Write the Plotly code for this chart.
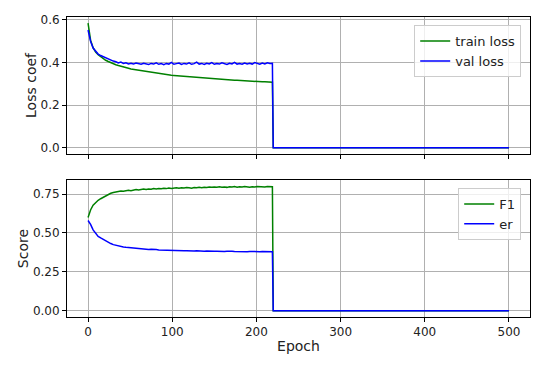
import plotly.graph_objects as go
from plotly.subplots import make_subplots

# epochs sampled every 3 up to 219, then the collapse at 220 and flat tail to 500
epochs = list(range(0, 220, 3)) + [220, 500]

train_loss = [
    0.585, 0.505, 0.470, 0.450, 0.437, 0.427, 0.418, 0.411, 0.405, 0.399,
    0.394, 0.390, 0.386, 0.382, 0.379, 0.376, 0.373, 0.370, 0.368, 0.366,
    0.363, 0.361, 0.359, 0.357, 0.355, 0.353, 0.351, 0.349, 0.348, 0.346,
    0.345, 0.343, 0.342, 0.340, 0.339, 0.338, 0.337, 0.336, 0.334, 0.333,
    0.332, 0.331, 0.330, 0.329, 0.328, 0.327, 0.326, 0.326, 0.325, 0.324,
    0.323, 0.322, 0.322, 0.321, 0.320, 0.319, 0.319, 0.318, 0.317, 0.317,
    0.316, 0.315, 0.315, 0.314, 0.313, 0.313, 0.312, 0.311, 0.311, 0.310,
    0.310, 0.309, 0.309, 0.308,
    0.0, 0.0,
]

val_loss = [
    0.553, 0.500, 0.468, 0.452, 0.440, 0.433, 0.428, 0.420, 0.416, 0.410,
    0.407, 0.404, 0.398, 0.402, 0.396, 0.399, 0.394, 0.397, 0.393, 0.398,
    0.395, 0.392, 0.397, 0.394, 0.391, 0.396, 0.393, 0.399, 0.392, 0.395,
    0.390, 0.396, 0.393, 0.401, 0.392, 0.395, 0.398, 0.391, 0.396, 0.393,
    0.399, 0.392, 0.395, 0.402, 0.393, 0.396, 0.391, 0.397, 0.394, 0.400,
    0.392, 0.396, 0.393, 0.399, 0.395, 0.391, 0.397, 0.394, 0.401, 0.393,
    0.396, 0.392, 0.398, 0.394, 0.397, 0.393, 0.400, 0.395, 0.392, 0.398,
    0.394, 0.399, 0.396, 0.397,
    0.0, 0.0,
]

f1 = [
    0.600, 0.648, 0.678, 0.695, 0.710, 0.720, 0.730, 0.740, 0.748, 0.755,
    0.760, 0.764, 0.767, 0.770, 0.768, 0.773, 0.775, 0.772, 0.777, 0.779,
    0.776, 0.780, 0.782, 0.779, 0.783, 0.781, 0.785, 0.783, 0.786, 0.784,
    0.787, 0.785, 0.789, 0.786, 0.788, 0.790, 0.787, 0.791, 0.789, 0.792,
    0.790, 0.788, 0.792, 0.790, 0.793, 0.791, 0.794, 0.792, 0.795, 0.793,
    0.796, 0.794, 0.797, 0.794, 0.796, 0.793, 0.797, 0.795, 0.798, 0.794,
    0.797, 0.795, 0.798, 0.796, 0.794, 0.797, 0.795, 0.798, 0.796, 0.797,
    0.795, 0.798, 0.796, 0.797,
    0.0, 0.0,
]

er = [
    0.580, 0.555, 0.520, 0.495, 0.478, 0.468, 0.458, 0.448, 0.440, 0.432,
    0.425, 0.420, 0.416, 0.413, 0.410, 0.408, 0.406, 0.404, 0.402, 0.401,
    0.399, 0.397, 0.398, 0.395, 0.394, 0.395, 0.392, 0.393, 0.391, 0.390,
    0.391, 0.389, 0.388, 0.390, 0.387, 0.388, 0.386, 0.387, 0.385, 0.386,
    0.384, 0.386, 0.384, 0.385, 0.383, 0.385, 0.383, 0.384, 0.382, 0.384,
    0.382, 0.383, 0.381, 0.383, 0.381, 0.382, 0.380, 0.382, 0.381, 0.380,
    0.382, 0.380, 0.381, 0.379, 0.381, 0.380, 0.381, 0.379, 0.380, 0.381,
    0.380, 0.379, 0.381, 0.380,
    0.0, 0.0,
]

x_ticks = [0, 100, 200, 300, 400, 500]
loss_ticks = [0.0, 0.2, 0.4, 0.6]
score_ticks = [0.0, 0.25, 0.5, 0.75]

GREEN = "#008000"
BLUE = "#0000ff"

fig = make_subplots(rows=2, cols=1, shared_xaxes=True, vertical_spacing=0.087)

fig.add_trace(go.Scatter(x=epochs, y=train_loss, name="train loss", mode="lines",
                         line=dict(color=GREEN, width=1.5), legend="legend"), row=1, col=1)
fig.add_trace(go.Scatter(x=epochs, y=val_loss, name="val loss", mode="lines",
                         line=dict(color=BLUE, width=1.5), legend="legend"), row=1, col=1)
fig.add_trace(go.Scatter(x=epochs, y=f1, name="F1", mode="lines",
                         line=dict(color=GREEN, width=1.5), legend="legend2"), row=2, col=1)
fig.add_trace(go.Scatter(x=epochs, y=er, name="er", mode="lines",
                         line=dict(color=BLUE, width=1.5), legend="legend2"), row=2, col=1)

axis_style = dict(
    showline=True, linecolor="black", linewidth=1, mirror=True,
    ticks="outside", ticklen=4, tickcolor="black",
    showgrid=True, gridcolor="#b0b0b0", gridwidth=1, zeroline=False,
    automargin=False,
)

fig.update_xaxes(**axis_style, range=[-25, 525], tickvals=x_ticks)
fig.update_xaxes(showticklabels=False, row=1, col=1)
fig.update_xaxes(title_text="Epoch", title_standoff=2, row=2, col=1)

fig.update_yaxes(**axis_style)
fig.update_yaxes(range=[-0.029, 0.614], tickvals=loss_ticks, tickformat=".1f",
                 title_text="Loss coef", title_standoff=0, row=1, col=1)
fig.update_yaxes(range=[-0.04, 0.84], tickvals=score_ticks, tickformat=".2f",
                 title_text="Score", title_standoff=0, row=2, col=1)

legend_style = dict(
    xanchor="right", yanchor="top", x=0.981,
    bgcolor="rgba(255,255,255,0.8)", bordercolor="#cccccc", borderwidth=1,
    font=dict(size=13, color="#222222"), tracegroupgap=0,
)

# the page body adds an 8px offset, so the figure is 8px smaller and margins shifted
fig.update_layout(
    width=542,
    height=360,
    template="simple_white",
    font=dict(family="DejaVu Sans", size=12, color="#222222"),
    plot_bgcolor="white",
    paper_bgcolor="white",
    margin=dict(l=59, r=20, t=9, b=51),
    legend=dict(**legend_style, y=0.973),
    legend2=dict(**legend_style, y=0.43),
    showlegend=True,
)

fig.write_html("out.html")
